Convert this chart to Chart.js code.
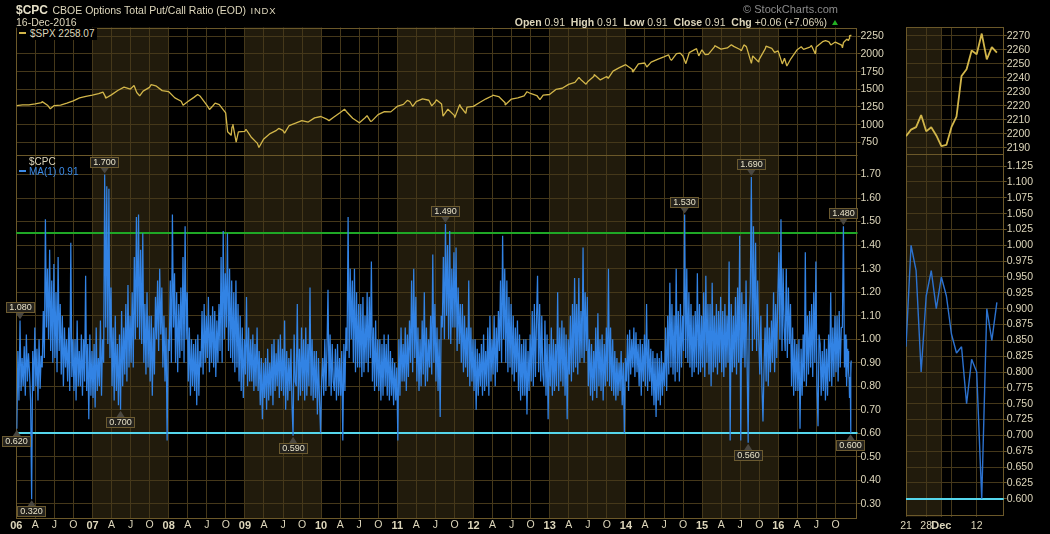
<!DOCTYPE html>
<html>
<head>
<meta charset="utf-8">
<title>$CPC CBOE Options Total Put/Call Ratio</title>
<script src="https://cdn.jsdelivr.net/npm/chart.js@4.4.1/dist/chart.umd.min.js"></script>
<style>
  body { margin: 0; background: #000; width: 1050px; height: 534px; overflow: hidden; position: relative;
         font-family: "Liberation Sans", Arial, sans-serif; color: #ddd6bb; }
  canvas { position: absolute; top: 0; }
  .txt { position: absolute; white-space: nowrap; line-height: 12px; }
  .up { display: inline-block; width: 0; height: 0; border-left: 3.5px solid transparent;
        border-right: 3.5px solid transparent; border-bottom: 5px solid #22b022; vertical-align: 1px; margin-left: 2px; }
  .dash { display: inline-block; width: 7px; height: 2px; vertical-align: 3px; margin-right: 4px; }
</style>
</head>
<body>
<canvas id="main" width="900" height="534" style="left:0"></canvas>
<canvas id="mini" width="155" height="534" style="left:895px"></canvas>

<div class="txt" style="left:16px;top:3px"><span style="font-weight:bold;font-size:12px;color:#e6e0c8">$CPC</span> <span style="font-size:10.5px">CBOE Options Total Put/Call Ratio (EOD)</span> <span style="font-size:9.5px;letter-spacing:.8px">INDX</span></div>
<div class="txt" style="left:16px;top:15.5px;font-size:10.5px">16-Dec-2016</div>
<div class="txt" style="right:212px;top:3px;font-size:11px;color:#8c8c8c;font-family:'Liberation Sans Narrow','Liberation Sans',sans-serif">&copy; StockCharts.com</div>
<div class="txt" id="ohlc" style="right:212px;top:16px;font-size:10.5px"></div>
<div class="txt" id="spxLegend" style="left:17px;top:28px;font-size:10px;background:#000;padding:0 2px"></div>
<div class="txt" style="left:29px;top:156px;font-size:10px">$CPC</div>
<div class="txt" id="cpcLegend" style="left:19px;top:166px;font-size:10px;color:#3b8be8"></div>

<script>
// $CPC, 6 readings per month
const cpc2006 = [
  0.62, 0.95, 0.74, 1.08, 0.78, 0.92,  0.80, 0.97, 0.76, 1.02, 0.82, 0.94,
  0.86, 0.74, 0.32, 0.95, 0.78, 1.05,  0.80, 0.96, 0.74, 1.00, 0.79, 0.93,
  0.88, 1.12, 0.92, 1.51, 1.05, 1.30,  1.00, 1.38, 0.95, 1.25, 0.90, 1.32,
  0.92, 1.20, 0.86, 1.35, 0.95, 1.15,  0.85, 1.10, 0.80, 1.05, 0.88, 1.00,
  0.82, 1.05, 0.78, 1.41, 0.84, 1.00,  0.78, 1.00, 0.74, 1.08, 0.80, 0.95,
  0.80, 1.02, 0.76, 1.00, 0.82, 1.27,  0.78, 0.98, 0.66, 1.02, 0.76, 0.95];
const cpc2007 = [
  0.75, 0.98, 0.71, 1.05, 0.78, 0.92,  0.80, 1.08, 0.76, 1.00, 0.90, 1.70,
  1.05, 1.65, 0.98, 1.64, 0.92, 1.22,  0.80, 1.05, 0.74, 1.10, 0.78, 0.98,
  0.72, 1.02, 0.70, 1.12, 0.80, 1.05,  0.85, 1.15, 0.82, 1.23, 0.88, 1.10,
  0.90, 1.20, 0.88, 1.35, 1.00, 1.52,  1.05, 1.53, 1.00, 1.38, 0.98, 1.45,
  0.90, 1.15, 0.85, 1.20, 0.88, 1.10,  0.82, 1.10, 0.76, 1.05, 0.85, 1.18,
  1.00, 1.25, 0.95, 1.30, 1.02, 1.22,  0.88, 1.10, 0.82, 1.05, 0.57, 1.00];
const cpc2008 = [
  0.95, 1.25, 0.90, 1.53, 1.05, 1.28,  0.90, 1.20, 0.86, 1.15, 0.92, 1.22,
  0.95, 1.35, 0.90, 1.48, 1.00, 1.20,  0.82, 1.05, 0.76, 1.00, 0.80, 0.98,
  0.78, 1.00, 0.72, 1.02, 0.76, 0.95,  0.88, 1.12, 0.85, 1.15, 0.90, 1.10,
  0.92, 1.18, 0.86, 1.10, 0.90, 1.14,  0.88, 1.12, 0.84, 1.08, 0.90, 1.15,
  0.95, 1.35, 0.90, 1.46, 1.00, 1.28,  1.05, 1.45, 0.95, 1.30, 0.92, 1.25,
  0.90, 1.20, 0.86, 1.25, 0.88, 1.15,  0.82, 1.10, 0.78, 1.05, 0.75, 1.00];
const cpc2009 = [
  0.85, 1.18, 0.80, 1.05, 0.82, 1.00,  0.82, 1.02, 0.78, 0.98, 0.80, 1.05,
  0.78, 0.95, 0.72, 0.92, 0.66, 0.90,  0.75, 0.92, 0.70, 0.96, 0.74, 0.90,
  0.76, 0.98, 0.72, 1.00, 0.78, 0.94,  0.80, 1.00, 0.75, 1.02, 0.78, 0.96,
  0.76, 1.08, 0.70, 0.95, 0.74, 0.92,  0.78, 0.96, 0.72, 0.59, 1.02, 0.82,
  0.80, 1.15, 0.74, 0.96, 0.76, 1.05,  0.78, 1.00, 0.74, 1.05, 0.76, 0.98,
  0.80, 1.22, 0.76, 1.00, 0.74, 0.95,  0.75, 0.95, 0.68, 0.92, 0.74, 0.60];
const cpc2010 = [
  0.82, 0.92, 0.76, 1.00, 0.78, 0.95,  1.21, 0.80, 1.02, 0.76, 0.98, 0.82,
  0.78, 0.96, 0.74, 0.98, 0.76, 0.92,  0.76, 0.95, 0.57, 0.98, 0.78, 1.05,
  0.95, 1.52, 0.92, 1.30, 1.00, 1.25,  0.90, 1.30, 0.86, 1.20, 0.88, 1.15,
  0.88, 1.15, 0.84, 1.18, 0.86, 1.10,  0.90, 1.20, 0.86, 1.18, 0.92, 1.33,
  0.82, 1.05, 0.78, 1.08, 0.80, 1.00,  0.78, 1.00, 0.74, 0.98, 0.76, 1.02,
  0.80, 0.98, 0.76, 1.02, 0.74, 0.95,  0.76, 0.92, 0.72, 0.90, 0.74, 0.88];
const cpc2011 = [
  0.57, 1.00, 0.76, 1.05, 0.82, 0.98,  0.82, 1.05, 0.78, 1.02, 0.84, 1.08,
  0.90, 1.25, 0.86, 1.30, 0.92, 1.18,  0.82, 1.05, 0.78, 1.00, 0.80, 1.08,
  0.85, 1.20, 0.80, 1.05, 0.82, 1.00,  0.88, 1.10, 0.85, 1.36, 0.90, 1.15,
  0.82, 1.05, 0.78, 1.00, 0.67, 1.10,  1.05, 1.35, 1.00, 1.49, 1.10, 1.40,
  1.00, 1.46, 0.98, 1.30, 1.05, 1.37,  1.05, 1.39, 0.95, 1.22, 0.98, 1.15,
  0.90, 1.15, 0.86, 1.10, 0.88, 1.05,  0.84, 1.25, 0.80, 1.05, 0.82, 1.00];
const cpc2012 = [
  0.78, 1.00, 0.70, 0.96, 0.76, 0.94,  0.80, 0.98, 0.76, 1.02, 0.78, 0.95,
  0.80, 1.05, 0.76, 1.10, 0.82, 1.00,  0.85, 1.10, 0.80, 1.05, 0.86, 1.12,
  0.95, 1.25, 0.90, 1.44, 1.00, 1.30,  0.90, 1.25, 0.86, 1.18, 0.88, 1.15,
  0.85, 1.10, 0.82, 1.05, 0.86, 1.08,  0.78, 1.02, 0.74, 0.98, 0.76, 1.00,
  0.76, 1.00, 0.68, 0.95, 0.78, 1.02,  0.82, 1.12, 0.80, 1.15, 0.84, 1.08,
  1.27, 0.86, 1.15, 0.82, 1.10, 0.85,  0.80, 1.08, 0.76, 1.02, 0.66, 0.98];
const cpc2013 = [
  0.80, 1.05, 0.76, 1.00, 0.78, 0.98,  0.80, 1.20, 0.78, 1.05, 0.82, 1.08,
  0.80, 1.05, 0.76, 1.02, 0.66, 1.00,  0.85, 1.10, 0.82, 1.15, 0.86, 1.26,
  0.88, 1.15, 0.85, 1.26, 0.90, 1.12,  0.92, 1.39, 0.90, 1.20, 0.95, 1.18,
  0.80, 1.00, 0.76, 0.98, 0.74, 0.95,  0.78, 1.05, 0.75, 1.11, 0.80, 1.00,
  0.78, 1.02, 0.74, 0.98, 0.80, 1.05,  0.82, 1.30, 0.80, 1.05, 0.78, 1.00,
  0.76, 0.95, 0.74, 0.92, 0.76, 0.90,  0.78, 0.95, 0.72, 0.90, 0.60, 0.92];
const cpc2014 = [
  0.82, 1.02, 0.78, 1.04, 0.85, 1.00,  0.88, 1.05, 0.84, 1.03, 0.86, 0.98,
  0.80, 1.00, 0.76, 0.98, 0.82, 1.02,  0.80, 1.15, 0.78, 1.00, 0.82, 0.96,
  0.76, 0.95, 0.72, 0.92, 0.67, 0.94,  0.74, 0.92, 0.72, 0.95, 0.76, 0.90,
  0.80, 1.05, 0.78, 1.10, 0.85, 1.24,  0.88, 1.15, 0.85, 1.10, 0.82, 1.30,
  0.86, 1.12, 0.82, 1.15, 0.88, 1.10,  0.95, 1.53, 0.92, 1.30, 0.90, 1.20,
  0.88, 1.15, 0.84, 1.10, 0.86, 1.12,  0.88, 1.28, 0.85, 1.15, 0.86, 1.10];
const cpc2015 = [
  0.88, 1.20, 0.84, 1.27, 0.90, 1.15,  0.85, 1.15, 0.80, 1.24, 0.86, 1.10,
  0.88, 1.15, 0.85, 1.12, 0.90, 1.18,  0.86, 1.12, 0.84, 1.15, 0.88, 1.10,
  0.90, 1.33, 0.57, 1.15, 0.86, 1.10,  0.88, 1.18, 0.85, 1.22, 0.90, 1.44,
  0.57, 1.20, 0.92, 1.15, 0.88, 1.25,  0.90, 0.56, 1.05, 1.20, 1.69, 0.95,
  1.48, 1.00, 1.41, 0.95, 1.25, 1.00,  0.85, 1.10, 0.80, 0.65, 0.88, 1.05,
  0.82, 1.15, 0.80, 1.05, 0.86, 1.08,  0.90, 1.20, 0.86, 1.15, 0.92, 1.18];
// Jan 2016 to 18 Nov 2016
const cpc2016 = [
  1.37, 1.00, 1.51, 0.95, 1.30, 1.05,  0.95, 1.30, 0.92, 1.22, 0.98, 1.15,
  0.80, 1.05, 0.76, 1.00, 0.78, 0.98,  0.78, 1.00, 0.62, 0.96, 0.76, 1.02,
  0.82, 1.37, 0.80, 1.10, 0.85, 1.12,  0.88, 1.15, 0.84, 1.20, 0.90, 1.33,
  0.80, 0.63, 1.02, 0.98, 0.76, 0.95,  0.78, 1.00, 0.74, 0.96, 0.76, 1.02,
  0.82, 1.20, 0.80, 1.05, 0.84, 1.10,  0.86, 1.10, 0.82, 1.12, 0.88, 1.05,
  1.05, 1.48, 0.88, 1.02];

// last four weeks, daily (right-hand panel)
const recentDates = ['2016-11-21', '2016-11-22', '2016-11-23', '2016-11-25', '2016-11-28', '2016-11-29',
  '2016-11-30', '2016-12-01', '2016-12-02', '2016-12-05', '2016-12-06', '2016-12-07', '2016-12-08',
  '2016-12-09', '2016-12-12', '2016-12-13', '2016-12-14', '2016-12-15', '2016-12-16'];
const recentCpc = [0.84, 1.00, 0.96, 0.80, 0.92, 0.96, 0.90, 0.95, 0.92, 0.86, 0.83, 0.84, 0.75,
  0.82, 0.80, 0.60, 0.90, 0.85, 0.91];
const recentSpx = [2198.18, 2202.94, 2204.72, 2213.35, 2201.72, 2204.66, 2198.81, 2191.08, 2191.95,
  2204.71, 2212.23, 2241.35, 2246.19, 2259.53, 2256.96, 2271.72, 2253.28, 2262.03, 2258.07];

// $SPX month-end closes, Jan 2006 .. Oct 2016
const spxMonthClose = [
  1280.08, 1280.66, 1294.83, 1310.61, 1270.09, 1270.20, 1276.66, 1303.82, 1335.85, 1377.94, 1400.63, 1418.30,
  1438.24, 1406.82, 1420.86, 1482.37, 1530.62, 1503.35, 1455.27, 1473.99, 1526.75, 1549.38, 1481.14, 1468.36,
  1378.55, 1330.63, 1322.70, 1385.59, 1400.38, 1280.00, 1267.38, 1282.83, 1166.36, 968.75, 896.24, 903.25,
  825.88, 735.09, 797.87, 872.81, 919.14, 919.32, 987.48, 1020.62, 1057.08, 1036.19, 1095.63, 1115.10,
  1073.87, 1104.49, 1169.43, 1186.69, 1089.41, 1030.71, 1101.60, 1049.33, 1141.20, 1183.26, 1180.55, 1257.64,
  1286.12, 1327.22, 1325.83, 1363.61, 1345.20, 1320.64, 1292.28, 1218.89, 1131.42, 1253.30, 1246.96, 1257.60,
  1312.41, 1365.68, 1408.47, 1397.91, 1310.33, 1362.16, 1379.32, 1406.58, 1440.67, 1412.16, 1416.18, 1426.19,
  1498.11, 1514.68, 1569.19, 1597.57, 1630.74, 1606.28, 1685.73, 1632.97, 1681.55, 1756.54, 1805.81, 1848.36,
  1782.59, 1859.45, 1872.34, 1883.95, 1923.57, 1960.23, 1930.67, 2003.37, 1972.29, 2018.05, 2067.56, 2058.90,
  1994.99, 2104.50, 2067.89, 2085.51, 2107.39, 2063.11, 2103.84, 1972.18, 1920.03, 2079.36, 2080.41, 2043.94,
  1940.24, 1932.23, 2059.74, 2065.30, 2096.95, 2098.86, 2173.60, 2170.95, 2168.27, 2126.15];
// $SPX swing highs and lows inside the months
const spxSwings = [
  ['2006-01-03', 1268.80], ['2006-05-05', 1325.76], ['2006-06-13', 1223.69], ['2007-02-20', 1459.68],
  ['2007-03-05', 1374.12], ['2007-07-19', 1553.08], ['2007-08-15', 1406.70], ['2007-10-09', 1565.15],
  ['2008-03-10', 1273.37], ['2008-05-19', 1426.63], ['2008-07-15', 1214.91], ['2008-08-11', 1305.32],
  ['2008-10-10', 899.22], ['2008-10-27', 848.92], ['2008-11-04', 1005.75], ['2008-11-20', 752.44],
  ['2009-01-06', 934.70], ['2009-03-09', 676.53], ['2009-06-12', 946.21], ['2009-07-10', 879.13],
  ['2010-02-08', 1056.74], ['2010-04-23', 1217.28], ['2010-07-02', 1022.58], ['2010-08-09', 1127.79],
  ['2010-08-26', 1047.22], ['2011-02-18', 1343.01], ['2011-03-16', 1256.88], ['2011-06-15', 1265.42],
  ['2011-07-07', 1353.22], ['2011-08-08', 1119.46], ['2011-10-03', 1099.23], ['2011-10-27', 1284.59],
  ['2011-11-25', 1158.67], ['2012-04-02', 1419.04], ['2012-06-01', 1278.04], ['2012-09-14', 1465.77],
  ['2012-11-15', 1353.33], ['2013-05-21', 1669.16], ['2013-06-24', 1573.09], ['2013-08-02', 1709.67],
  ['2013-10-08', 1655.45], ['2014-02-03', 1741.89], ['2014-04-11', 1815.69], ['2014-07-24', 1987.98],
  ['2014-08-07', 1909.57], ['2014-09-18', 2011.36], ['2014-10-15', 1862.49], ['2014-12-05', 2075.37],
  ['2014-12-16', 1972.74], ['2015-01-15', 1992.67], ['2015-03-02', 2117.39], ['2015-05-21', 2130.82],
  ['2015-07-08', 2046.68], ['2015-07-20', 2128.28], ['2015-08-25', 1867.61], ['2015-09-29', 1884.09],
  ['2015-11-03', 2109.79], ['2015-12-14', 2021.94], ['2016-01-20', 1859.33], ['2016-02-11', 1829.08],
  ['2016-04-20', 2102.40], ['2016-06-08', 2119.12], ['2016-06-27', 2000.54], ['2016-08-15', 2190.15],
  ['2016-09-09', 2127.81], ['2016-11-04', 2085.18], ['2016-11-09', 2163.26]];

// labelled swing points [year, value]
const cpcMarks = [[2006, 1.08], [2006, 0.62], [2006, 0.32], [2007, 1.70], [2007, 0.70], [2009, 0.59],
  [2011, 1.49], [2014, 1.53], [2015, 1.69], [2015, 0.56], [2016, 1.48], [2016, 0.60]];
const upperLevel = 1.45;
const lowerLevel = 0.60;

// tick labels
const spxTicks = [750, 1000, 1250, 1500, 1750, 2000, 2250];
const cpcTicks = [0.3, 0.4, 0.5, 0.6, 0.7, 0.8, 0.9, 1.0, 1.1, 1.2, 1.3, 1.4, 1.5, 1.6, 1.7];
const monthLetters = ['', 'A', 'J', 'O'];
const miniSpxTicks = [2190, 2200, 2210, 2220, 2230, 2240, 2250, 2260, 2270];
const miniCpcTicks = [0.600, 0.625, 0.650, 0.675, 0.700, 0.725, 0.750, 0.775, 0.800, 0.825, 0.850,
  0.875, 0.900, 0.925, 0.950, 0.975, 1.000, 1.025, 1.050, 1.075, 1.100, 1.125];
const miniTickDates = ['2016-11-21', '2016-11-28', '2016-12-01', '2016-12-05', '2016-12-12'];
const miniTickText = ['21', '28', 'Dec', '', '12'];

const FONT = '"Liberation Sans", Arial, sans-serif';
const TEXT = '#ddd6bb';
const GRID = '#45381a';
const FRAME = '#6b5829';
const SHADE = '#211b0c';
const GOLD = '#d2b64a';
const BLUE = '#3283e4';
const GREEN = '#1fa826';
const CYAN = '#55d6ec';

function yearFraction(s) {
  const [y, m, d] = s.split('-').map(Number);
  const start = Date.UTC(y, 0, 1);
  return y + (Date.UTC(y, m - 1, d) - start) / (Date.UTC(y + 1, 0, 1) - start);
}

const cpcPoints = [];
[cpc2006, cpc2007, cpc2008, cpc2009, cpc2010, cpc2011, cpc2012, cpc2013, cpc2014, cpc2015, cpc2016]
  .forEach((vals, k) => vals.forEach((v, i) => cpcPoints.push({ x: 2006 + k + (i + 0.5) / 72, y: v })));
recentDates.forEach((d, i) => cpcPoints.push({ x: yearFraction(d), y: recentCpc[i] }));

const spxPoints = spxMonthClose.map((v, i) => ({ x: 2006 + (i + 0.97) / 12, y: v }));
spxSwings.forEach(([d, v]) => spxPoints.push({ x: yearFraction(d), y: v }));
recentDates.forEach((d, i) => spxPoints.push({ x: yearFraction(d), y: recentSpx[i] }));
spxPoints.sort((a, b) => a.x - b.x);

const quarterTicks = [];
for (let y = 2006; y <= 2016; y++) for (let q = 0; q < 4; q++) quarterTicks.push(y + q / 4);

// header texts from the last values
const last = recentCpc[recentCpc.length - 1];
const prev = recentCpc[recentCpc.length - 2];
const chg = last - prev;
const f2 = v => v.toFixed(2);
document.getElementById('ohlc').innerHTML =
  '<b>Open</b> ' + f2(last) + '&nbsp; <b>High</b> ' + f2(last) + '&nbsp; <b>Low</b> ' + f2(last) +
  '&nbsp; <b>Close</b> ' + f2(last) + '&nbsp; <b>Chg</b> ' + (chg >= 0 ? '+' : '') + f2(chg) +
  ' (' + (chg >= 0 ? '+' : '') + (chg / prev * 100).toFixed(2) + '%) <span class="up"></span>';
document.getElementById('spxLegend').innerHTML =
  '<span class="dash" style="background:' + GOLD + '"></span>$SPX ' + recentSpx[recentSpx.length - 1].toFixed(2);
document.getElementById('cpcLegend').innerHTML =
  '<span class="dash" style="background:#3b8be8;margin-right:3px"></span>MA(1) ' + f2(last);

// horizontal band of given thickness, snapped to whole pixels
function hline(ctx, a, y, color, thick) {
  const t = thick || 1;
  ctx.fillStyle = color;
  ctx.fillRect(a.left, Math.round(y - t / 2), a.right - a.left, t);
}

function frame(ctx, a, sepY) {
  ctx.strokeStyle = FRAME;
  ctx.lineWidth = 1;
  ctx.strokeRect(Math.round(a.left) + 0.5, Math.round(a.top) + 0.5,
    Math.round(a.right - a.left) - 1, Math.round(a.bottom - a.top) - 1);
  hline(ctx, a, sepY, FRAME);
}

function drawMark(ctx, x, y, text, above) {
  ctx.font = '9px ' + FONT;
  const w = Math.round(ctx.measureText(text).width) + 6, h = 11;
  const bx = Math.round(x - w / 2);
  const by = Math.round(above ? y - 7 - h : y + 7);
  ctx.fillStyle = '#4a4740';
  ctx.beginPath();
  if (above) { ctx.moveTo(x - 4, by + h); ctx.lineTo(x + 4, by + h); ctx.lineTo(x, y - 1); }
  else { ctx.moveTo(x - 4, by); ctx.lineTo(x + 4, by); ctx.lineTo(x, y + 1); }
  ctx.fill();
  ctx.fillStyle = '#24221d';
  ctx.fillRect(bx, by, w, h);
  ctx.strokeStyle = '#6b5a30';
  ctx.strokeRect(bx + 0.5, by + 0.5, w - 1, h - 1);
  ctx.fillStyle = '#e8e2c8';
  ctx.textAlign = 'center';
  ctx.textBaseline = 'middle';
  ctx.fillText(text, bx + w / 2, by + h / 2 + 0.5);
}

const mainDecor = {
  id: 'mainDecor',
  beforeDraw(chart) {
    const { ctx, chartArea: a, scales: { x } } = chart;
    ctx.save();
    ctx.fillStyle = SHADE;
    for (let y = 2006; y <= 2016; y++) {
      if (y % 2 === 0) continue;
      const x0 = Math.max(a.left, x.getPixelForValue(y));
      const x1 = Math.min(a.right, x.getPixelForValue(y + 1));
      ctx.fillRect(x0, a.top, x1 - x0, a.bottom - a.top);
    }
    ctx.restore();
  },
  beforeDatasetsDraw(chart) {
    const { ctx, chartArea: a, scales: { yCpc } } = chart;
    ctx.save();
    frame(ctx, a, yCpc.top);
    hline(ctx, a, yCpc.getPixelForValue(upperLevel), GREEN, 2);
    hline(ctx, a, yCpc.getPixelForValue(lowerLevel), CYAN, 2);
    ctx.restore();
  },
  afterDatasetsDraw(chart) {
    const { ctx, scales: { x, yCpc } } = chart;
    ctx.save();
    cpcMarks.forEach(([yr, v]) => {
      const p = cpcPoints.find(pt => Math.floor(pt.x) === yr && Math.abs(pt.y - v) < 1e-9);
      if (p) drawMark(ctx, x.getPixelForValue(p.x), yCpc.getPixelForValue(p.y), v.toFixed(3), v > 1);
    });
    ctx.restore();
  }
};

const miniDecor = {
  id: 'miniDecor',
  beforeDraw(chart) {
    const { ctx, chartArea: a, scales: { x } } = chart;
    const firstDec = recentDates.findIndex(d => d.startsWith('2016-12'));
    ctx.save();
    ctx.fillStyle = SHADE;
    ctx.fillRect(a.left, a.top, x.getPixelForValue(firstDec) - a.left, a.bottom - a.top);
    ctx.restore();
  },
  beforeDatasetsDraw(chart) {
    const { ctx, chartArea: a, scales: { yCpc } } = chart;
    ctx.save();
    frame(ctx, a, yCpc.top);
    hline(ctx, a, yCpc.getPixelForValue(lowerLevel), CYAN, 2);
    ctx.restore();
  }
};

function yAxis(weight, min, max, ticks, digits, width) {
  return {
    type: 'linear', position: 'right', stack: 'panels', stackWeight: weight, min: min, max: max,
    afterBuildTicks: s => { s.ticks = ticks.map(v => ({ value: v })); },
    afterFit: s => { s.width = width; },
    border: { display: false },
    grid: { color: GRID, tickLength: 3, tickColor: FRAME },
    ticks: { autoSkip: false, padding: 0, color: TEXT, font: { family: FONT, size: 10.5 },
             callback: v => v.toFixed(digits) }
  };
}

const common = {
  responsive: false,
  animation: false,
  events: [],
  plugins: { legend: { display: false }, tooltip: { enabled: false } },
  elements: { point: { radius: 0 }, line: { tension: 0, borderJoinStyle: 'bevel' } }
};

new Chart(document.getElementById('main'), {
  type: 'line',
  data: {
    datasets: [
      { data: spxPoints, yAxisID: 'ySpx', borderColor: GOLD, borderWidth: 1.3 },
      { data: cpcPoints, yAxisID: 'yCpc', borderColor: BLUE, borderWidth: 1.25 }
    ]
  },
  options: Object.assign({}, common, {
    layout: { padding: { left: 16.3, top: 27.5, right: 0, bottom: 0 } },
    scales: {
      x: {
        type: 'linear', min: 2006, max: 2017.039,
        afterBuildTicks: s => { s.ticks = quarterTicks.map(v => ({ value: v })); },
        afterFit: s => { s.height = 15.7; },
        border: { display: false },
        grid: { color: GRID, drawTicks: false },
        ticks: {
          autoSkip: false, maxRotation: 0, padding: 1, color: TEXT,
          font: c => (c.tick && c.tick.value % 1 === 0)
            ? { family: FONT, size: 11, weight: 'bold' } : { family: FONT, size: 10.5 },
          callback: v => v % 1 === 0 ? String(v).slice(2) : monthLetters[Math.round((v % 1) * 4)]
        }
      },
      ySpx: yAxis(127.5, 570.3, 2374.5, spxTicks, 0, 42.5),
      yCpc: yAxis(363.3, 0.239, 1.783, cpcTicks, 2, 42.5)
    }
  }),
  plugins: [mainDecor]
});

const miniTickIdx = miniTickDates.map(d => recentDates.indexOf(d));
new Chart(document.getElementById('mini'), {
  type: 'line',
  data: {
    datasets: [
      { data: recentSpx.map((v, i) => ({ x: i, y: v })), yAxisID: 'ySpx', borderColor: GOLD, borderWidth: 1.8 },
      { data: recentCpc.map((v, i) => ({ x: i, y: v })), yAxisID: 'yCpc', borderColor: '#2c72cf', borderWidth: 1.4 }
    ]
  },
  options: Object.assign({}, common, {
    layout: { padding: { left: 11, top: 27.3, right: 0, bottom: 0 } },
    scales: {
      x: {
        type: 'linear', min: 0, max: 19.35,
        afterBuildTicks: s => { s.ticks = miniTickIdx.map(v => ({ value: v })); },
        afterFit: s => { s.height = 17.3; },
        border: { display: false },
        grid: { color: GRID, drawTicks: false },
        ticks: {
          autoSkip: false, maxRotation: 0, padding: 3, color: TEXT,
          font: c => (c.tick && miniTickText[miniTickIdx.indexOf(c.tick.value)] === 'Dec')
            ? { family: FONT, size: 11, weight: 'bold' } : { family: FONT, size: 10.5 },
          callback: v => miniTickText[miniTickIdx.indexOf(v)]
        }
      },
      ySpx: yAxis(126.7, 2185.5, 2276.2, miniSpxTicks, 0, 46.3),
      yCpc: yAxis(362.7, 0.5717, 1.1441, miniCpcTicks, 3, 46.3)
    }
  }),
  plugins: [miniDecor]
});
</script>
</body>
</html>
